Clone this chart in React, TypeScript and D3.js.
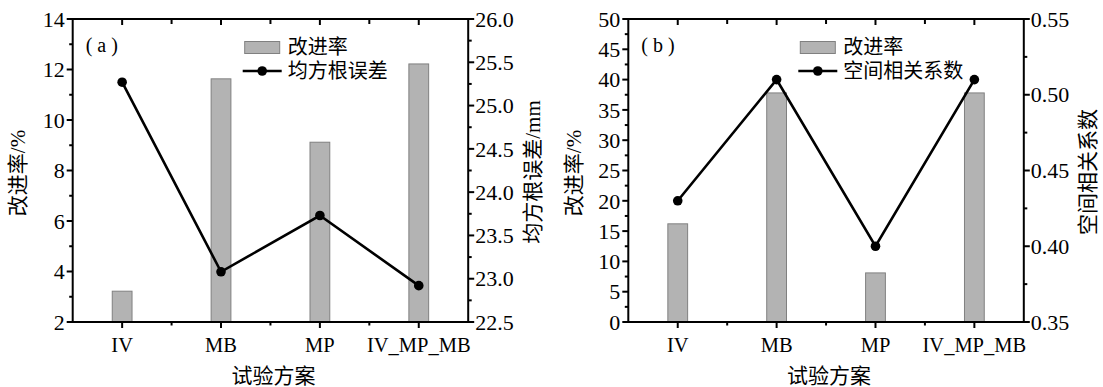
import * as d3 from "d3";

const categories = ["IV", "MB", "MP", "IV_MP_MB"];

// panel (a)
const rateA = [3.22, 11.63, 9.12, 12.22];
const rmseA = [25.27, 23.08, 23.73, 22.92];
const leftTicksA = [2, 4, 6, 8, 10, 12, 14];
const rightTicksA = [22.5, 23.0, 23.5, 24.0, 24.5, 25.0, 25.5, 26.0];

// panel (b)
const rateB = [16.2, 37.8, 8.1, 37.8];
const corrB = [0.43, 0.51, 0.4, 0.51];
const leftTicksB = [0, 5, 10, 15, 20, 25, 30, 35, 40, 45, 50];
const rightTicksB = [0.35, 0.4, 0.45, 0.5, 0.55];

const W = 1103;
const H = 387;
const TOP = 19;
const BOTTOM = 322;
const PW = 395.5;
const SERIF = "'Liberation Serif', 'Noto Sans CJK SC', serif";

interface PanelProps {
  left: number;
  tag: string;
  bars: number[];
  line: number[];
  leftTicks: number[];
  leftMinor: number;
  rightTicks: number[];
  rightMinor: number;
  rightDigits: number;
  leftTitle: string;
  rightTitle: string;
  barName: string;
  lineName: string;
}

function Panel(p: PanelProps) {
  const right = p.left + PW;
  const x = d3.scalePoint<string>().domain(categories).range([p.left, right]).padding(0.5);
  const step = x.step();
  const yl = d3.scaleLinear().domain(d3.extent(p.leftTicks) as [number, number]).range([BOTTOM, TOP]);
  const yr = d3.scaleLinear().domain(d3.extent(p.rightTicks) as [number, number]).range([BOTTOM, TOP]);

  const [l0, l1] = yl.domain();
  const leftMinorTicks = d3.range(l0 + p.leftMinor, l1, p.leftMinor * 2);
  const [r0, r1] = yr.domain();
  const rightMinorTicks = d3.range(r0 + p.rightMinor, r1 - 1e-9, p.rightMinor * 2);
  const xMinor = categories.slice(0, -1).map((c) => (x(c) as number) + step / 2);

  const bw = step * 0.2;
  const path = d3.line<number>()
    .x((_, i) => x(categories[i]) as number)
    .y((d) => yr(d))(p.line) as string;

  const lg = p.left + 172;

  return (
    <g>
      {p.bars.map((v, i) => (
        <rect key={i} x={(x(categories[i]) as number) - bw / 2} y={yl(v)} width={bw} height={BOTTOM - yl(v)}
          fill="#b3b3b3" stroke="#808080" strokeWidth={1} />
      ))}
      <path d={path} fill="none" stroke="#000" strokeWidth={2.6} />
      {p.line.map((v, i) => (
        <circle key={i} cx={x(categories[i])} cy={yr(v)} r={4.8} fill="#000" />
      ))}

      {/* frame */}
      <rect x={p.left} y={TOP} width={PW} height={BOTTOM - TOP} fill="none" stroke="#000" strokeWidth={2} />

      {/* bottom + top ticks */}
      {categories.map((c) => (
        <g key={c}>
          <line x1={x(c)} x2={x(c)} y1={BOTTOM} y2={BOTTOM + 6} stroke="#000" strokeWidth={2} />
          <line x1={x(c)} x2={x(c)} y1={TOP} y2={TOP + 6} stroke="#000" strokeWidth={2} />
          <text x={x(c)} y={352} textAnchor="middle" fontFamily={SERIF} fontSize={20.5}>{c}</text>
        </g>
      ))}
      {xMinor.map((m, i) => (
        <g key={i}>
          <line x1={m} x2={m} y1={BOTTOM} y2={BOTTOM + 3.5} stroke="#000" strokeWidth={2} />
          <line x1={m} x2={m} y1={TOP} y2={TOP + 5} stroke="#000" strokeWidth={2} />
        </g>
      ))}

      {/* left axis */}
      {p.leftTicks.map((t) => (
        <g key={t}>
          <line x1={p.left - 6} x2={p.left} y1={yl(t)} y2={yl(t)} stroke="#000" strokeWidth={2} />
          <text x={p.left - 8} y={yl(t)} dy="0.35em" textAnchor="end" fontFamily={SERIF} fontSize={22}>{t}</text>
        </g>
      ))}
      {leftMinorTicks.map((t) => (
        <line key={t} x1={p.left - 3.5} x2={p.left} y1={yl(t)} y2={yl(t)} stroke="#000" strokeWidth={2} />
      ))}

      {/* right axis */}
      {p.rightTicks.map((t) => (
        <g key={t}>
          <line x1={right} x2={right + 6} y1={yr(t)} y2={yr(t)} stroke="#000" strokeWidth={2} />
          <text x={right + 7} y={yr(t)} dy="0.35em" fontFamily={SERIF} fontSize={22}>{t.toFixed(p.rightDigits)}</text>
        </g>
      ))}
      {rightMinorTicks.map((t) => (
        <line key={t} x1={right} x2={right + 3.5} y1={yr(t)} y2={yr(t)} stroke="#000" strokeWidth={2} />
      ))}

      {/* titles */}
      <text transform={`translate(${p.left - 55},${173}) rotate(-90)`} textAnchor="middle" dy="0.35em"
        fontFamily={SERIF} fontSize={21}>{p.leftTitle}</text>
      <text transform={`translate(${right + 64},${172}) rotate(-90)`} textAnchor="middle" dy="0.35em"
        fontFamily={SERIF} fontSize={21}>{p.rightTitle}</text>
      <text x={(p.left + right) / 2 + 3} y={383} textAnchor="middle" fontFamily={SERIF} fontSize={21}>试验方案</text>

      <text x={p.left + 13} y={52} fontFamily={SERIF} fontSize={20}>{p.tag}</text>

      {/* legend */}
      <rect x={lg} y={41.5} width={35} height={12} fill="#b3b3b3" stroke="#808080" strokeWidth={1} />
      <text x={lg + 43} y={54} fontFamily={SERIF} fontSize={20}>{p.barName}</text>
      <line x1={lg - 2} x2={lg + 37} y1={71} y2={71} stroke="#000" strokeWidth={2.6} />
      <circle cx={lg + 17.5} cy={71} r={4.8} fill="#000" />
      <text x={lg + 43} y={78} fontFamily={SERIF} fontSize={20}>{p.lineName}</text>
    </g>
  );
}

export default function App() {
  return (
    <svg width={W} height={H} style={{ position: "absolute", left: 0, top: 0, background: "#fff" }}>
      <Panel left={72.7} tag="( a )" bars={rateA} line={rmseA}
        leftTicks={leftTicksA} leftMinor={1} rightTicks={rightTicksA} rightMinor={0.25} rightDigits={1}
        leftTitle="改进率/%" rightTitle="均方根误差/mm" barName="改进率" lineName="均方根误差" />
      <Panel left={628.3} tag="( b )" bars={rateB} line={corrB}
        leftTicks={leftTicksB} leftMinor={2.5} rightTicks={rightTicksB} rightMinor={0.025} rightDigits={2}
        leftTitle="改进率/%" rightTitle="空间相关系数" barName="改进率" lineName="空间相关系数" />
    </svg>
  );
}
